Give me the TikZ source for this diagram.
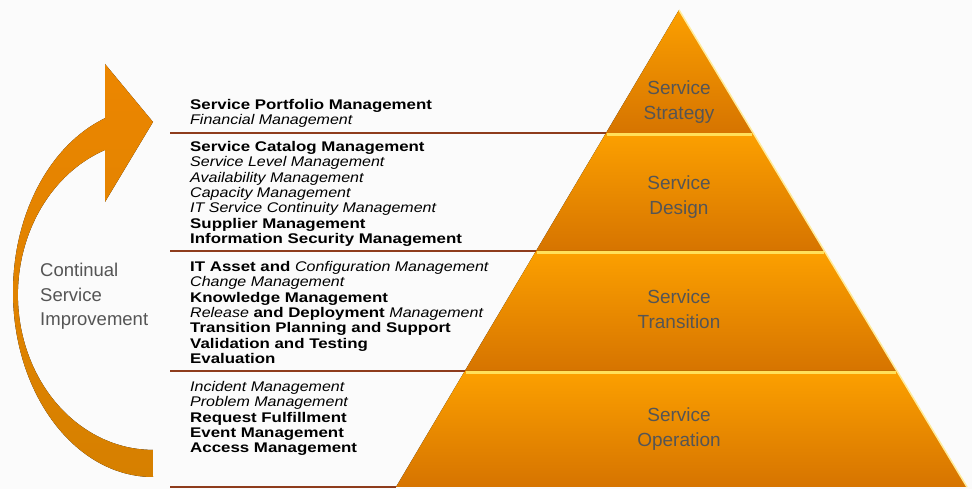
\documentclass[tikz,border=0pt]{standalone}
\usepackage{fontspec}
\setmainfont{Liberation Sans}
\newfontfamily\listfont[UprightFeatures={FakeStretch=1.18},BoldFeatures={FakeStretch=1.205},ItalicFeatures={FakeStretch=1.145}]{Liberation Sans}
\usetikzlibrary{calc}
\definecolor{paper}{RGB}{251,251,251}
\definecolor{rulebrown}{RGB}{142,60,28}
\definecolor{orangetop}{RGB}{252,160,0}
\definecolor{orangebot}{RGB}{214,116,0}
\definecolor{glint}{RGB}{255,224,90}
\definecolor{tiertext}{RGB}{85,85,85}
\definecolor{arrowtop}{RGB}{236,134,0}
\definecolor{arrowmid}{RGB}{246,154,14}
\definecolor{arrowbot}{RGB}{214,128,0}
\begin{document}
\begin{tikzpicture}[x=1pt,y=1pt]
\tikzstyle{layer} = [top color=orangetop,bottom color=orangebot]
\tikzstyle{bevel} = [draw=glint,line width=3pt]
\tikzstyle{rim} = [draw=glint!60!white,line width=1.5pt]
\tikzstyle{rule} = [draw=rulebrown,line width=2.6pt]
\tikzstyle{tier} = [align=center,text=tiertext,font=\fontsize{19}{25}\selectfont]
\tikzstyle{tasks} = [anchor=north west,inner sep=0pt,align=left,font=\listfont\fontsize{14}{15.35}\selectfont]

\fill[paper] (0,0) rectangle (972,489);
\useasboundingbox (0,0) rectangle (972,489);

\coordinate (top) at (679,479);
\coordinate (bl) at (396,2);
\coordinate (br) at (967,2);
\coordinate (lm) at (170,0);
\coordinate (l1) at ($(top)!0.2579!(bl)$);
\coordinate (r1) at ($(top)!0.2579!(br)$);
\coordinate (l2) at ($(top)!0.5052!(bl)$);
\coordinate (r2) at ($(top)!0.5052!(br)$);
\coordinate (l3) at ($(top)!0.7568!(bl)$);
\coordinate (r3) at ($(top)!0.7568!(br)$);

\fill[layer] (top) -- (r1) -- (l1) -- cycle;
\fill[layer] (l1) -- (r1) -- (r2) -- (l2) -- cycle;
\fill[layer] (l2) -- (r2) -- (r3) -- (l3) -- cycle;
\fill[layer] (l3) -- (r3) -- (br) -- (bl) -- cycle;
\foreach \i in {1,2,3}
  \draw[bevel] ($(l\i)+(1,-1.5)$) -- ($(r\i)+(-1,-1.5)$);
\draw[rim] (top) -- (br);

\foreach \i in {1,2,3}
  \draw[rule] (l\i -| lm) -- (l\i);
\draw[rule] (bl -| lm) -- (bl);

\fill[top color=arrowtop,middle color=arrowmid,bottom color=arrowbot]
  (153,12) arc[start angle=-90,end angle=-250,x radius=140,y radius=185]
  -- (105,425) -- (153,367) -- (105,287) -- (105,339)
  arc[start angle=110.8,end angle=270,x radius=135,y radius=155] -- cycle;

\node[tier] (strategy) at (679,387) {Service\\Strategy};
\node[tier] (design) at (679,292) {Service\\Design};
\node[tier] (transition) at (679,179.5) {Service\\Transition};
\node[tier] (operation) at (679,60) {Service\\Operation};

\node[anchor=north west,inner sep=0pt,align=left,text=tiertext,font=\fontsize{18.5}{24.5}\selectfont] (csi) at (40,226) {Continual\\Service\\Improvement};

\node[tasks] (strategylist) at (190,390) {\textbf{Service Portfolio Management}\\\textit{Financial Management}};
\node[tasks] (designlist) at (190,348) {\textbf{Service Catalog Management}\\\textit{Service Level Management}\\\textit{Availability Management}\\\textit{Capacity Management}\\\textit{IT Service Continuity Management}\\\textbf{Supplier Management}\\\textbf{Information Security Management}};
\node[tasks] (transitionlist) at (190,228) {\textbf{IT Asset and} \textit{Configuration Management}\\\textit{Change Management}\\\textbf{Knowledge Management}\\\textit{Release} \textbf{and Deployment} \textit{Management}\\\textbf{Transition Planning and Support}\\\textbf{Validation and Testing}\\\textbf{Evaluation}};
\node[tasks] (operationlist) at (190,108) {\textit{Incident Management}\\\textit{Problem Management}\\\textbf{Request Fulfillment}\\\textbf{Event Management}\\\textbf{Access Management}};
\end{tikzpicture}
\end{document}
